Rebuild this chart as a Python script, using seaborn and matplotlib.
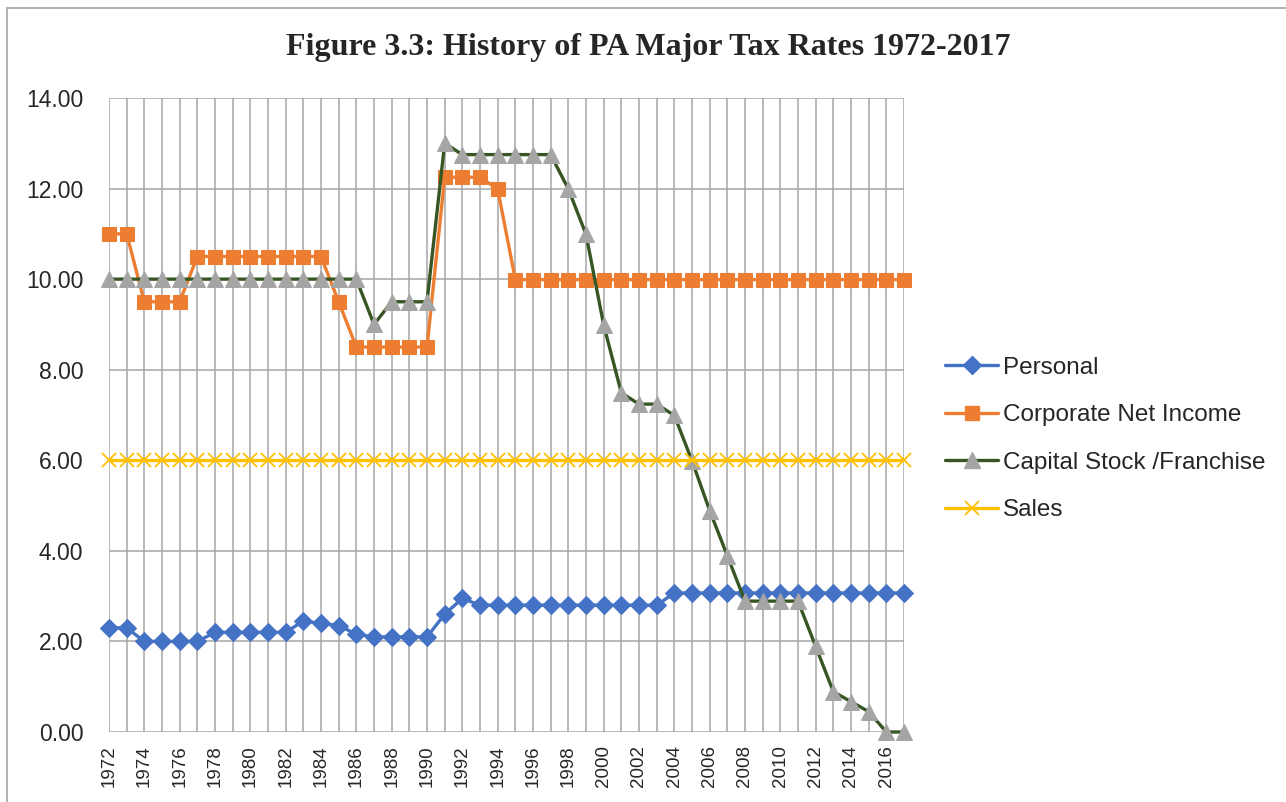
import numpy as np
import pandas as pd
import matplotlib
matplotlib.use("Agg")
import matplotlib.pyplot as plt
from matplotlib.lines import Line2D
import seaborn as sns

years = list(range(1972, 2018))

personal = [2.3, 2.3, 2.0, 2.0, 2.0, 2.0, 2.2, 2.2, 2.2, 2.2,
            2.2, 2.45, 2.4, 2.35, 2.16, 2.1, 2.1, 2.1, 2.1, 2.6,
            2.95, 2.8, 2.8, 2.8, 2.8, 2.8, 2.8, 2.8, 2.8, 2.8,
            2.8, 2.8, 3.07, 3.07, 3.07, 3.07, 3.07, 3.07, 3.07, 3.07,
            3.07, 3.07, 3.07, 3.07, 3.07, 3.07]

corporate = [11.0, 11.0, 9.5, 9.5, 9.5, 10.5, 10.5, 10.5, 10.5, 10.5,
             10.5, 10.5, 10.5, 9.5, 8.5, 8.5, 8.5, 8.5, 8.5, 12.25,
             12.25, 12.25, 11.99, 9.99, 9.99, 9.99, 9.99, 9.99, 9.99, 9.99,
             9.99, 9.99, 9.99, 9.99, 9.99, 9.99, 9.99, 9.99, 9.99, 9.99,
             9.99, 9.99, 9.99, 9.99, 9.99, 9.99]

capital_stock = [10.0, 10.0, 10.0, 10.0, 10.0, 10.0, 10.0, 10.0, 10.0, 10.0,
                 10.0, 10.0, 10.0, 10.0, 10.0, 9.0, 9.5, 9.5, 9.5, 13.0,
                 12.75, 12.75, 12.75, 12.75, 12.75, 12.75, 11.99, 10.99, 8.99, 7.49,
                 7.24, 7.24, 6.99, 5.99, 4.89, 3.89, 2.89, 2.89, 2.89, 2.89,
                 1.89, 0.89, 0.67, 0.45, 0.0, 0.0]

sales = [6.0] * len(years)

labels = ["Personal", "Corporate Net Income", "Capital Stock /Franchise", "Sales"]

df = pd.DataFrame({"year": years, "Personal": personal,
                   "Corporate Net Income": corporate,
                   "Capital Stock /Franchise": capital_stock,
                   "Sales": sales})

sns.set_style("white")
plt.rcParams["font.family"] = ["Liberation Sans", "DejaVu Sans"]

fig = plt.figure(figsize=(12.86, 8.02), dpi=100)
ax = fig.add_axes([109 / 1286, 1 - 732 / 802, (904 - 109) / 1286, (732 - 98) / 802])

grid_c = "#a6a6a6"
styles = {
    "Personal": dict(color="#4472C4", marker="D", markersize=9.5,
                     markerfacecolor="#4472C4", markeredgecolor="#4472C4"),
    "Corporate Net Income": dict(color="#ED7D31", marker="s", markersize=10.5,
                                 markerfacecolor="#ED7D31", markeredgecolor="#ED7D31"),
    "Capital Stock /Franchise": dict(color="#375623", marker="^", markersize=11.5,
                                     markerfacecolor="#A5A5A5", markeredgecolor="#A5A5A5"),
    "Sales": dict(color="#FFC000", marker="x", markersize=9.5,
                  markerfacecolor="#FFC000", markeredgecolor="#FFC000",
                  markeredgewidth=1.3),
}

for name in labels:
    sns.lineplot(data=df, x="year", y=name, ax=ax, linewidth=2.4,
                 clip_on=False, zorder=3, **styles[name])

ax.set_xlim(1972, 2017)
ax.set_ylim(0, 14)
ax.set_xticks(years)
ax.set_xticklabels([str(y) if y % 2 == 0 else "" for y in years],
                   rotation=90, fontsize=13.5)
ax.set_yticks(np.arange(0, 15, 2))
ax.set_yticklabels([f"{v:.2f}" for v in np.arange(0, 15, 2)], fontsize=16.5)
ax.tick_params(axis="y", length=6.5, width=1, color=grid_c, pad=12)
ax.tick_params(axis="x", length=4.5, width=1, color=grid_c, pad=5)
ax.set_xlabel("")
ax.set_ylabel("")
ax.grid(True, color=grid_c, linewidth=1.1)
ax.set_axisbelow(True)
for s in ax.spines.values():
    s.set_visible(False)

handles = [Line2D([], [], linewidth=2.4, **styles[n]) for n in labels]
fig.legend(handles, labels, loc="center left",
           bbox_to_anchor=(945 / 1286, 1 - 439 / 802), frameon=False,
           fontsize=17.5, handlelength=2.2, handletextpad=0.2,
           labelspacing=1.05, borderpad=0, borderaxespad=0)

fig.text(648 / 1286, 1 - 47 / 802,
         "Figure 3.3: History of PA Major Tax Rates 1972-2017",
         ha="center", va="center", fontsize=23, fontweight="bold",
         family=["Liberation Serif", "DejaVu Serif"])

# chart border (only top and left edges show in the crop)
fig.add_artist(Line2D([7 / 1286, 1], [1 - 8 / 802, 1 - 8 / 802],
                      transform=fig.transFigure, color="#a6a6a6", linewidth=1.2))
fig.add_artist(Line2D([7 / 1286, 7 / 1286], [0, 1 - 8 / 802],
                      transform=fig.transFigure, color="#a6a6a6", linewidth=1.2))

fig.savefig("out.png", dpi=100)
